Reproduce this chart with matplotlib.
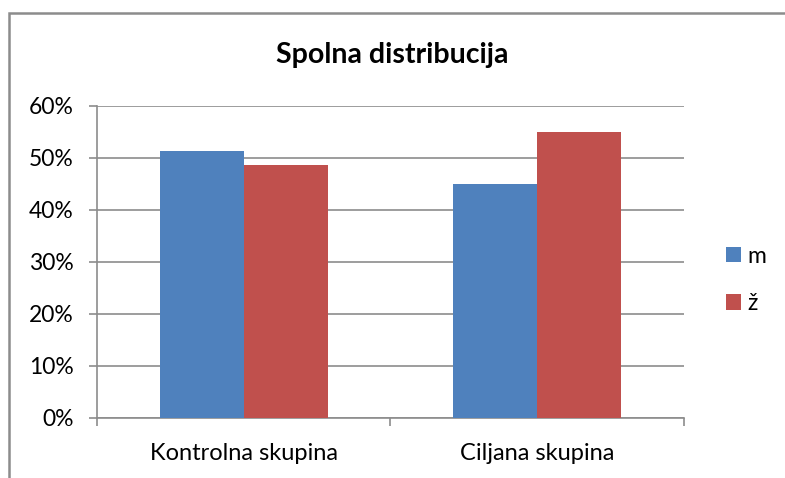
import matplotlib
matplotlib.use("Agg")
import matplotlib.pyplot as plt
from matplotlib.patches import Rectangle
from matplotlib.ticker import PercentFormatter
import numpy as np

categories = ["Kontrolna skupina", "Ciljana skupina"]
series_names = ["m", "ž"]
m_values = [51.3, 45.0]
z_values = [48.7, 55.0]
y_ticks = [0, 10, 20, 30, 40, 50, 60]
title = "Spolna distribucija"

colors = ["#4F81BD", "#C0504D"]
grid_color = "#8C8C8C"

plt.rcParams["font.family"] = ["Lato", "DejaVu Sans"]

fig = plt.figure(figsize=(7.85, 4.78), dpi=100)
ax = fig.add_axes([97 / 785, 1 - 418 / 478, (684 - 97) / 785, (418 - 106) / 478])

x = np.arange(len(categories))
w = 1 / 3.5
ax.bar(x - w / 2, m_values, width=w, color=colors[0], label=series_names[0], zorder=3)
ax.bar(x + w / 2, z_values, width=w, color=colors[1], label=series_names[1], zorder=3)

ax.set_xlim(-0.5, len(categories) - 0.5)
ax.set_ylim(0, 60)
ax.set_yticks(y_ticks)
ax.yaxis.set_major_formatter(PercentFormatter(decimals=0))
ax.yaxis.grid(True, color=grid_color, linewidth=1.2, zorder=0)
ax.set_axisbelow(True)

ax.set_xticks(np.arange(-0.5, len(categories), 1.0))
ax.set_xticklabels([])
ax.set_xticks(x, minor=True)
ax.set_xticklabels(categories, minor=True, fontsize=17)
ax.tick_params(axis="x", which="minor", length=0, pad=18)
ax.tick_params(axis="x", which="major", length=6, color=grid_color, width=1.2)
ax.tick_params(axis="y", length=6, color=grid_color, width=1.2, labelsize=16.5, pad=11)

for s in ["top", "right"]:
    ax.spines[s].set_visible(False)
for s in ["left", "bottom"]:
    ax.spines[s].set_color(grid_color)
    ax.spines[s].set_linewidth(1.2)

fig.text(0.5, 1 - 55 / 478, title, ha="center", va="center", fontsize=20.5, fontweight="bold")

fig.legend(loc="center left", bbox_to_anchor=(726 / 785, 1 - 280 / 478), frameon=False,
           fontsize=16.5, handlelength=0.65, handleheight=0.65, handletextpad=0.3,
           labelspacing=1.15, borderpad=0, borderaxespad=0)

fig.add_artist(Rectangle((9 / 785, -0.2), 1.2, 0.2 + 1 - 13 / 478, transform=fig.transFigure,
                         fill=False, edgecolor=grid_color, linewidth=1.8))

fig.savefig("out.png", dpi=100)
